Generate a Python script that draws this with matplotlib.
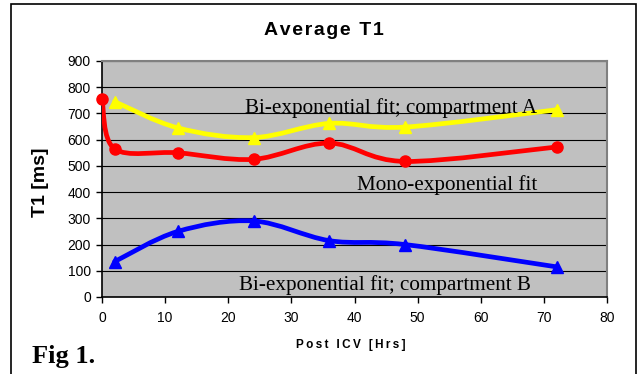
import numpy as np
import matplotlib
matplotlib.use("Agg")
import matplotlib.pyplot as plt
from matplotlib.path import Path
from matplotlib.patches import PathPatch, Rectangle

# hours after ICV
hrs_mono = [0, 2, 12, 24, 36, 48, 72]
hrs_bi = [2, 12, 24, 36, 48, 72]

# average T1 [ms]
t1_bi_a = [745, 645, 608, 662, 648, 714]
t1_mono = [755, 565, 550, 525, 587, 517, 572]
t1_bi_b = [135, 250, 290, 215, 200, 115]

plt.rcParams['font.family'] = ['Liberation Sans', 'DejaVu Sans']


def spaced(s, gap='\u2009'):
    return gap.join(s)


def smooth_path(x, y):
    # Excel-style smoothed line: cubic bezier through each point
    pts = np.column_stack([x, y]).astype(float)
    n = len(pts)
    verts = [pts[0]]
    codes = [Path.MOVETO]
    for i in range(n - 1):
        p0 = pts[i - 1] if i > 0 else pts[i]
        p1 = pts[i]
        p2 = pts[i + 1]
        p3 = pts[i + 2] if i + 2 < n else pts[i + 1]
        c1 = p1 + (p2 - p0) / 6.0
        c2 = p2 - (p3 - p1) / 6.0
        verts += [c1, c2, p2]
        codes += [Path.CURVE4] * 3
    return Path(verts, codes)


fig = plt.figure(figsize=(6.42, 3.74), dpi=100)
ax = fig.add_axes([102 / 642, 1 - 297 / 374, 505 / 642, 236 / 374])
ax.set_facecolor('#C0C0C0')

series = [
    (hrs_bi, t1_bi_a, '#FFFF00', '^', 9),
    (hrs_mono, t1_mono, '#FF0000', 'o', 8),
    (hrs_bi, t1_bi_b, '#0000FF', '^', 9),
]
for xs, ys, col, mk, ms in series:
    ax.add_patch(PathPatch(smooth_path(xs, ys), facecolor='none', edgecolor=col,
                           lw=3.4, capstyle='round', joinstyle='round', zorder=3))
    ax.plot(xs, ys, linestyle='none', marker=mk, ms=ms, color=col,
            markeredgecolor=col, zorder=4, clip_on=False)

ax.set_xlim(0, 80)
ax.set_ylim(0, 900)
ax.set_xticks(np.arange(0, 81, 10))
ax.set_yticks(np.arange(0, 901, 100))
ax.yaxis.grid(True, color='black', lw=0.8)
ax.set_axisbelow(True)
ax.tick_params(direction='out', length=4, width=1, labelsize=10, color='black')
ax.tick_params(axis='x', pad=6)
ax.tick_params(axis='y', pad=4)
for side in ('top', 'right'):
    ax.spines[side].set_color('#808080')
    ax.spines[side].set_linewidth(1.5)
for side in ('left', 'bottom'):
    ax.spines[side].set_color('black')
    ax.spines[side].set_linewidth(1.2)

serif = ['Liberation Serif', 'DejaVu Serif']
ax.text(22.6, 702, 'Bi-exponential fit; compartment A', family=serif,
        fontsize=15.2, va='baseline', zorder=5)
ax.text(40.4, 408, 'Mono-exponential fit', family=serif,
        fontsize=15.2, va='baseline', zorder=5)
ax.text(21.7, 27, 'Bi-exponential fit; compartment B', family=serif,
        fontsize=15.2, va='baseline', zorder=5)

fig.text(0.504, 1 - 35 / 374, spaced('Average T1', '\u200a'), fontsize=14,
         fontweight='bold', ha='center', va='baseline')
fig.text(351 / 642, 1 - 348 / 374, spaced('Post ICV [Hrs]'), fontsize=8.5,
         fontweight='bold', ha='center', va='baseline')
fig.text(41 / 642, 1 - 182.5 / 374, 'T1 [ms]', fontsize=14, fontweight='bold',
         rotation=90, ha='center', va='center')
fig.text(32 / 642, 1 - 363 / 374, 'Fig 1.', family=serif, fontsize=19,
         fontweight='bold', va='baseline')

fig.patches.append(Rectangle((11 / 642, -0.1), 625 / 642, 1 - 4 / 374 + 0.1,
                             transform=fig.transFigure, fill=False,
                             edgecolor='black', lw=1.2))

fig.savefig('out.png', dpi=100)
